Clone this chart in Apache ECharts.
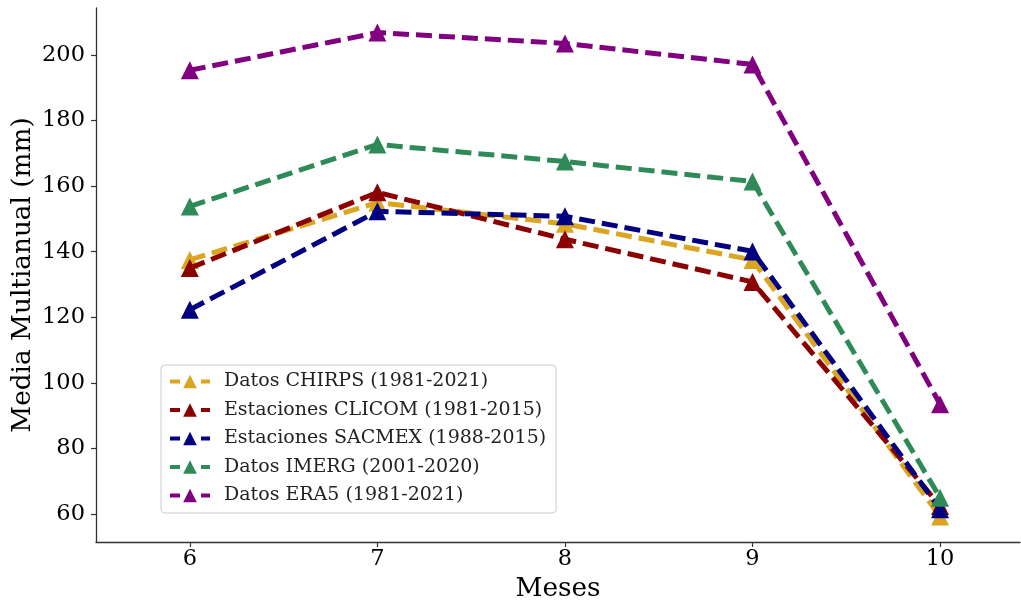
<!DOCTYPE html>
<html>
<head>
<meta charset="utf-8">
<script src="https://cdn.jsdelivr.net/npm/echarts@6/dist/echarts.min.js"></script>
<style>
  html, body { margin: 0; padding: 0; background: #ffffff; }
  #chart { width: 1021px; height: 600px; }
</style>
</head>
<body>
<div id="chart"></div>
<script>
// Months of the rainy season (June to October)
const months = [6, 7, 8, 9, 10];
const monthTicks = [6, 7, 8, 9, 10];
const valueTicks = [60, 80, 100, 120, 140, 160, 180, 200];

// Multi-year monthly mean precipitation (mm) per source
const chirps = [137.5, 155.0, 148.5, 137.5, 59.3];
const clicom = [135.0, 158.1, 143.8, 130.8, 62.5];
const sacmex = [122.3, 152.3, 150.8, 140.1, 61.5];
const imerg  = [153.8, 172.7, 167.5, 161.4, 65.0];
const era5   = [195.3, 206.8, 203.5, 197.1, 93.5];

const seriesDefs = [
  { name: 'Datos CHIRPS (1981-2021)',       values: chirps, color: '#DAA520' },
  { name: 'Estaciones CLICOM (1981-2015)',  values: clicom, color: '#8B0000' },
  { name: 'Estaciones SACMEX (1988-2015)',  values: sacmex, color: '#000080' },
  { name: 'Datos IMERG (2001-2020)',        values: imerg,  color: '#2E8B57' },
  { name: 'Datos ERA5 (1981-2021)',         values: era5,   color: '#800080' }
];

const FONT = '"DejaVu Serif", serif';

const chart = echarts.init(document.getElementById('chart'), null, { renderer: 'canvas' });

chart.setOption({
  animation: false,
  backgroundColor: '#ffffff',
  grid: { left: 96, right: 1, top: 8, bottom: 58, containLabel: false, outerBoundsMode: 'none' },
  xAxis: {
    type: 'value',
    min: 5.5,
    max: 10.426,
    name: 'Meses',
    nameLocation: 'middle',
    nameGap: 34,
    nameMoveOverlap: false,
    nameTextStyle: { fontFamily: FONT, fontSize: 26.3, color: '#000' },
    axisLine: { show: true, lineStyle: { color: '#333', width: 1.3 } },
    axisTick: { show: true, length: 5, inside: false, customValues: monthTicks,
                lineStyle: { color: '#333', width: 1.2 } },
    axisLabel: { customValues: monthTicks, margin: 6, fontFamily: FONT, fontSize: 22.5, color: '#000' },
    splitLine: { show: false }
  },
  yAxis: {
    type: 'value',
    min: 51.5,
    max: 214.3,
    name: 'Media Multianual (mm)',
    nameLocation: 'middle',
    nameGap: 60,
    nameMoveOverlap: false,
    nameTextStyle: { fontFamily: FONT, fontSize: 26.3, color: '#000' },
    axisLine: { show: true, lineStyle: { color: '#333', width: 1.3 } },
    axisTick: { show: true, length: 5, inside: false, customValues: valueTicks,
                lineStyle: { color: '#333', width: 1.2 } },
    axisLabel: { customValues: valueTicks, margin: 11, fontFamily: FONT, fontSize: 22.5, color: '#000' },
    splitLine: { show: false }
  },
  legend: {
    orient: 'vertical',
    left: 161,
    top: 365,
    padding: [7, 10, 8, 7],
    itemWidth: 40,
    itemHeight: 17,
    itemGap: 9.5,
    backgroundColor: 'rgba(255,255,255,0.85)',
    borderColor: '#cccccc',
    borderWidth: 1,
    borderRadius: 4,
    lineStyle: { width: 4, type: [10, 21], cap: 'butt' },
    textStyle: { fontFamily: FONT, fontSize: 19, color: '#222', lineHeight: 19, padding: [0, 0, 0, 9] },
    data: seriesDefs.map(s => s.name)
  },
  series: seriesDefs.map((s, i) => ({
    name: s.name,
    type: 'line',
    data: months.map((m, k) => [m, s.values[k]]),
    symbol: 'triangle',
    symbolSize: 18,
    showAllSymbol: true,
    z: 2 + i,
    itemStyle: { color: s.color, borderColor: s.color, borderWidth: 0 },
    lineStyle: { color: s.color, width: 5, type: [16, 7], cap: 'butt', join: 'miter' },
    emphasis: { disabled: true }
  }))
});
</script>
</body>
</html>
